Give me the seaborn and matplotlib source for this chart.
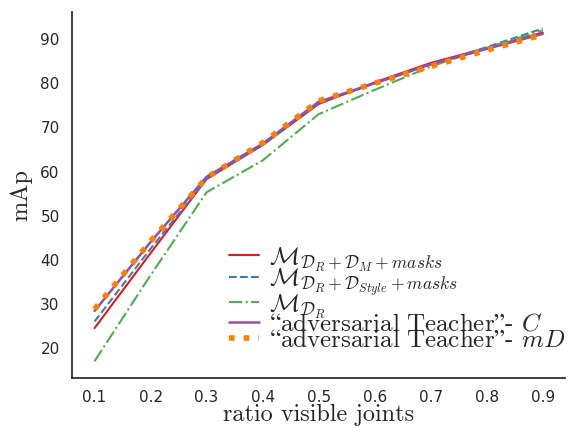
import seaborn as sns
import pandas as pd
import matplotlib.pyplot as plt

sns.set_theme(style="white")
plt.rcParams["mathtext.fontset"] = "cm"

# Dados
ratio = [0.1, 0.2, 0.3, 0.4, 0.5, 0.6, 0.7, 0.8, 0.9]
m_dr_dm = [24.5, 41.5, 58.3, 66.0, 75.3, 80.2, 84.6, 88.0, 91.5]
m_dr_style = [26.0, 42.5, 58.3, 66.0, 75.5, 80.0, 84.2, 88.2, 92.4]
m_dr = [17.0, 36.5, 55.3, 62.5, 73.0, 78.5, 83.8, 88.0, 92.0]
adv_c = [28.4, 44.0, 58.8, 66.3, 75.8, 80.0, 84.3, 87.8, 91.2]
adv_md = [28.8, 44.2, 58.6, 66.5, 76.0, 80.0, 83.8, 87.5, 91.0]

labels = [
    r"$\mathcal{M}_{\mathcal{D}_R+\mathcal{D}_M+masks}$",
    r"$\mathcal{M}_{\mathcal{D}_R+\mathcal{D}_{Style}+masks}$",
    r"$\mathcal{M}_{\mathcal{D}_R}$",
    "$\\mathrm{\u201cadversarial\\ Teacher\u201d}$- $C$",
    "$\\mathrm{\u201cadversarial\\ Teacher\u201d}$- $mD$",
]
series = [m_dr_dm, m_dr_style, m_dr, adv_c, adv_md]
colors = sns.color_palette("Set1", 5)
styles = [("-", 1.5), ("--", 1.5), ("-.", 1.5), ("-", 1.8), (":", 4.0)]

fig, ax = plt.subplots(figsize=(5.68, 4.26), dpi=100)
fig.subplots_adjust(left=0.127, right=0.995, bottom=0.113, top=0.972)

for vals, lab, c, (ls, lw) in zip(series, labels, colors, styles):
    sns.lineplot(x=ratio, y=vals, ax=ax, color=c, linestyle=ls, linewidth=lw, label=lab)

sns.despine(ax=ax)
ax.set_xticks(ratio)
ax.set_xticklabels([f"{r:.1f}" for r in ratio])
ax.set_yticks([20, 30, 40, 50, 60, 70, 80, 90])
ax.tick_params(labelsize=11)
ax.tick_params(axis="y", pad=3)
ax.tick_params(axis="x", pad=3)

serif = ["cmr10", "DejaVu Serif"]
ax.set_xlabel("ratio visible joints", fontsize=17.5, family=serif, labelpad=-1)
ax.set_ylabel("mAp", fontsize=17.5, family=serif, labelpad=6)

ax.legend(loc="lower right", bbox_to_anchor=(1.0, 0.07), frameon=False,
          prop={"family": serif, "size": 18},
          handlelength=1.2, handletextpad=0.4, labelspacing=-0.25,
          borderaxespad=0.0, borderpad=0.0)

fig.savefig("out.png", dpi=100)
